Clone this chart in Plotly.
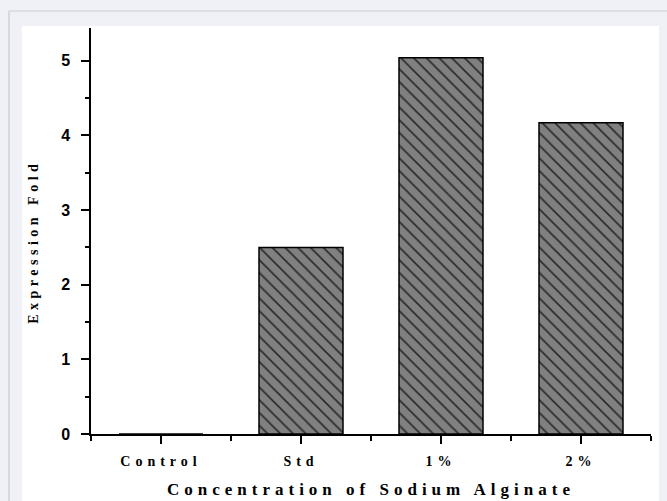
import plotly.graph_objects as go

categories = ["Control", "Std", "1%", "2%"]
expression_fold = [0.0, 2.5, 5.04, 4.17]
y_ticks = [0, 1, 2, 3, 4, 5]
x_title = "Concentration of Sodium Alginate"
y_title = "Expression Fold"

positions = list(range(len(categories)))

fig = go.Figure()
fig.add_trace(go.Bar(
    x=positions,
    y=expression_fold,
    width=0.6,
    marker=dict(
        color="#808080",
        line=dict(color="black", width=1.5),
        pattern=dict(shape="\\", fgcolor="#2a2a2a", bgcolor="#808080",
                     size=9, solidity=0.18, fillmode="replace"),
    ),
    showlegend=False,
))

L, R, T, B = 91, 16, 28, 67
W, H = 667, 501
pw, ph = W - L - R, H - T - B

def px(xp):
    return (xp - L) / pw

def py(yp):
    return (H - B - yp) / ph

fig.update_layout(
    width=W, height=H,
    margin=dict(l=L, r=R, t=T, b=B, pad=0),
    paper_bgcolor="#f0f1f6",
    plot_bgcolor="rgba(0,0,0,0)",
    shapes=[
        dict(type="rect", xref="paper", yref="paper", layer="below",
             x0=px(22), x1=px(659), y0=py(26), y1=py(505),
             fillcolor="white", line=dict(width=0)),
        dict(type="line", xref="paper", yref="paper", layer="below",
             x0=px(9), x1=px(9), y0=py(11), y1=py(505),
             line=dict(color="#cfd0d8", width=1.5)),
        dict(type="line", xref="paper", yref="paper", layer="below",
             x0=px(9), x1=px(670), y0=py(11), y1=py(11),
             line=dict(color="#d6d7de", width=1.5)),
    ],
    annotations=[
        dict(text=x_title, xref="paper", yref="paper", x=px(371), y=py(489),
             showarrow=False, xanchor="center", yanchor="middle",
             font=dict(family="Liberation Serif", size=17, color="black", weight="bold")),
        dict(text=y_title, xref="paper", yref="paper", x=px(33), y=py(241),
             textangle=-90, showarrow=False, xanchor="center", yanchor="middle",
             font=dict(family="Liberation Serif", size=14, color="black", weight="bold")),
    ],
    xaxis=dict(
        range=[-0.5, len(categories) - 0.5],
        tickmode="array", tickvals=positions, ticktext=categories,
        showline=True, linecolor="black", linewidth=1.5,
        ticks="outside", ticklen=8, tickwidth=1.5, tickcolor="black",
        minor=dict(tickmode="array",
                   tickvals=[p - 0.5 for p in positions] + [positions[-1] + 0.5],
                   ticks="outside", ticklen=5, tickwidth=1.5, tickcolor="black"),
        showgrid=False, zeroline=False,
        ticklabelstandoff=5,
        tickfont=dict(family="Liberation Serif", size=14, color="black", weight="bold"),
    ),
    yaxis=dict(
        range=[0, 5.44],
        tickmode="array", tickvals=y_ticks,
        showline=True, linecolor="black", linewidth=1.5,
        ticks="outside", ticklen=8, tickwidth=1.5, tickcolor="black",
        minor=dict(dtick=0.5, tick0=0, ticks="outside", ticklen=4,
                   tickwidth=1.5, tickcolor="black"),
        showgrid=False, zeroline=False,
        ticklabelstandoff=8,
        tickfont=dict(family="Liberation Sans", size=16, color="black", weight="bold"),
    ),
)

post = """
document.body.style.margin = '0';
document.body.style.padding = '0';
var gd = document.getElementById('{plot_id}');
function spacing(){
  gd.querySelectorAll('.xtick text').forEach(function(t){ t.style.letterSpacing='5px'; });
  var ann = gd.querySelectorAll('.annotation-text');
  if (ann.length > 0) ann[0].style.letterSpacing = '5px';
  if (ann.length > 1) ann[1].style.letterSpacing = '4.5px';
}
spacing();
gd.on('plotly_afterplot', spacing);
"""

fig.write_html("out.html", post_script=post, config={"displayModeBar": False})
